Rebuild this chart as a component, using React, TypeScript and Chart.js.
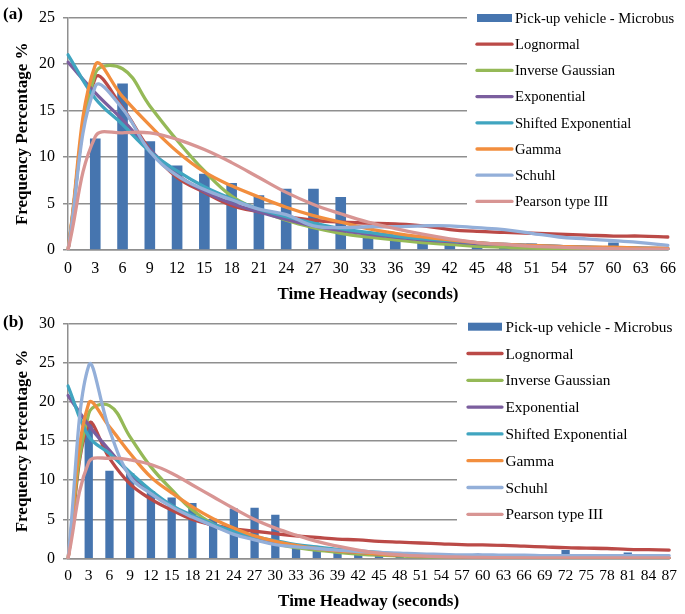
import React, { useEffect, useRef } from 'react';
import { Chart, registerables } from 'chart.js';

Chart.register(...registerables);

const FONT = "'Liberation Serif', 'Times New Roman', serif";

const SERIES_NAMES = [
  'Pick-up vehicle - Microbus',
  'Lognormal',
  'Inverse Gaussian',
  'Exponential',
  'Shifted Exponential',
  'Gamma',
  'Schuhl',
  'Pearson type III',
];
const SERIES_COLORS = ['#4675AF', '#BB4A47', '#95B957', '#7B5E9E', '#40A5C0', '#F28E3E', '#93AFD9', '#D89593'];

// ---------- Panel (a) ----------
const catsA = ['0', '3', '6', '9', '12', '15', '18', '21', '24', '27', '30', '33', '36', '39', '42', '45', '48', '51', '54', '57', '60', '63', '66'];
const barsA = [0, 12.0, 17.9, 11.7, 9.1, 8.2, 7.2, 5.9, 6.6, 6.6, 5.7, 1.6, 1.3, 1.0, 0.8, 0.5, 0.4, 0.7, 0, 0, 0.8, 0, 0];
const lognA = [0, 18.5, 15.3, 10.8, 7.8, 6.2, 4.8, 4.1, 3.6, 3.2, 3.0, 2.9, 2.8, 2.6, 2.2, 2.0, 1.9, 1.8, 1.7, 1.6, 1.5, 1.5, 1.4];
const invGA = [0, 19.0, 19.5, 15.5, 11.8, 8.5, 5.8, 4.3, 3.2, 2.4, 1.8, 1.4, 1.1, 0.8, 0.6, 0.4, 0.3, 0.2, 0.15, 0.1, 0.1, 0.05, 0.05];
const expA = [20.2, 16.9, 14.0, 10.8, 8.1, 6.3, 5.0, 4.1, 3.3, 2.6, 2.1, 1.7, 1.4, 1.1, 0.9, 0.7, 0.6, 0.5, 0.4, 0.3, 0.25, 0.2, 0.15];
const shiftA = [21.0, 16.3, 13.5, 10.6, 8.5, 6.8, 5.5, 4.4, 3.6, 2.9, 2.3, 1.9, 1.5, 1.2, 1.0, 0.8, 0.6, 0.5, 0.4, 0.3, 0.25, 0.2, 0.15];
const gammaA = [0, 19.9, 16.5, 13.4, 10.6, 8.4, 6.9, 5.7, 4.6, 3.7, 3.0, 2.3, 1.8, 1.4, 1.1, 0.8, 0.6, 0.5, 0.4, 0.3, 0.3, 0.2, 0.2];
const schuhlA = [0, 17.6, 15.2, 10.6, 8.0, 6.5, 5.4, 4.4, 3.8, 2.6, 2.4, 2.5, 2.5, 2.6, 2.6, 2.4, 2.2, 1.8, 1.4, 1.2, 1.0, 0.8, 0.5];
const pearsonA = [0, 12.2, 12.6, 12.6, 11.9, 10.8, 9.4, 7.8, 6.2, 4.9, 3.9, 3.0, 2.3, 1.7, 1.2, 0.8, 0.6, 0.4, 0.3, 0.2, 0.15, 0.1, 0.1];

// ---------- Panel (b) ----------
const catsB = ['0', '3', '6', '9', '12', '15', '18', '21', '24', '27', '30', '33', '36', '39', '42', '45', '48', '51', '54', '57', '60', '63', '66', '69', '72', '75', '78', '81', '84', '87'];
const barsB = [0, 17.5, 11.2, 10.9, 8.6, 7.8, 7.1, 5.1, 6.4, 6.5, 5.6, 1.5, 1.1, 0.9, 0.7, 0.5, 0.3, 0.2, 0.2, 0.1, 0.1, 0.1, 0.1, 0.5, 1.1, 0, 0, 0.8, 0, 0];
const lognB = [0, 17.2, 12.8, 9.5, 7.6, 6.2, 5.0, 4.3, 3.8, 3.5, 3.2, 2.9, 2.7, 2.5, 2.4, 2.2, 2.1, 2.0, 1.9, 1.8, 1.75, 1.7, 1.6, 1.5, 1.4, 1.35, 1.3, 1.2, 1.15, 1.1];
const invGB = [0, 18.5, 19.5, 15.5, 11.7, 8.8, 6.2, 4.4, 3.3, 2.5, 1.9, 1.4, 1.1, 0.8, 0.6, 0.45, 0.35, 0.25, 0.2, 0.15, 0.1, 0.1, 0.05, 0.05, 0.05, 0, 0, 0, 0, 0];
const expB = [20.8, 17.0, 13.8, 10.8, 8.5, 6.7, 5.3, 4.2, 3.3, 2.6, 2.1, 1.6, 1.3, 1.0, 0.8, 0.6, 0.5, 0.4, 0.3, 0.25, 0.2, 0.15, 0.12, 0.1, 0.08, 0.06, 0.05, 0.04, 0.03, 0.03];
const shiftB = [22.0, 15.6, 13.4, 11.0, 8.7, 6.8, 5.5, 4.4, 3.5, 2.8, 2.3, 1.8, 1.5, 1.2, 1.0, 0.8, 0.6, 0.5, 0.4, 0.3, 0.25, 0.2, 0.15, 0.12, 0.1, 0.08, 0.06, 0.05, 0.04, 0.03];
const gammaB = [0, 19.8, 16.8, 13.4, 10.4, 8.4, 6.6, 5.1, 3.9, 2.9, 2.2, 1.7, 1.3, 1.0, 0.8, 0.6, 0.45, 0.35, 0.3, 0.25, 0.2, 0.15, 0.12, 0.1, 0.1, 0.08, 0.06, 0.05, 0.05, 0.05];
const schuhlB = [0, 24.6, 16.4, 10.4, 8.3, 6.6, 5.3, 4.2, 3.1, 2.4, 1.8, 1.5, 1.3, 1.1, 0.9, 0.8, 0.7, 0.6, 0.55, 0.5, 0.5, 0.45, 0.45, 0.4, 0.4, 0.4, 0.4, 0.4, 0.4, 0.4];
const pearsonB = [0, 12.3, 12.8, 12.6, 12.0, 10.9, 9.4, 7.9, 6.4, 5.0, 3.9, 3.0, 2.2, 1.6, 1.1, 0.7, 0.5, 0.35, 0.25, 0.2, 0.15, 0.12, 0.1, 0.1, 0.1, 0.1, 0.1, 0.1, 0.1, 0.1];

const X_TITLE = 'Time Headway (seconds)';
const Y_TITLE = 'Frequency Percentage %';

type PanelCfg = {
  tag: string;
  top: number;
  height: number;
  labels: string[];
  bars: number[];
  curves: number[][];
  yMax: number;
  padTop: number;
  xScaleHeight: number;
  xTickPad: number;
  xTitlePadBottom: number;
  xTickSize: number;
  barPct: number;
  legend: {
    boxX: number; boxY: number; boxW: number; boxH: number;
    mx0: number; mx1: number; tx: number; y0: number; dy: number; fontSize: number;
    tagX: number; tagY: number;
  };
};

const legendPlugin = {
  id: 'customLegend',
  beforeDatasetsDraw(chart: any, _args: any, o: any) {
    const ctx = chart.ctx;
    ctx.save();
    ctx.fillStyle = '#ffffff';
    ctx.fillRect(o.boxX, o.boxY, o.boxW, o.boxH);
    ctx.restore();
  },
  afterDatasetsDraw(chart: any, _args: any, o: any) {
    const ctx = chart.ctx;
    ctx.save();
    chart.data.datasets.forEach((ds: any, i: number) => {
      const y = o.y0 + i * o.dy;
      if (i === 0) {
        ctx.fillStyle = ds.backgroundColor;
        ctx.fillRect(o.mx0, y - 4, o.mx1 - o.mx0, 8);
      } else {
        ctx.strokeStyle = ds.borderColor;
        ctx.lineWidth = 3.3;
        ctx.lineCap = 'round';
        ctx.beginPath();
        ctx.moveTo(o.mx0, y);
        ctx.lineTo(o.mx1, y);
        ctx.stroke();
      }
      ctx.fillStyle = '#000';
      ctx.font = `${o.fontSize}px ${FONT}`;
      ctx.textBaseline = 'middle';
      ctx.textAlign = 'left';
      ctx.fillText(ds.label, o.tx, y + 1);
    });
    ctx.font = `bold 17px ${FONT}`;
    ctx.fillStyle = '#000';
    ctx.textBaseline = 'middle';
    ctx.textAlign = 'left';
    ctx.fillText(o.tag, o.tagX, o.tagY);
    ctx.restore();
  },
};

function buildConfig(p: PanelCfg): any {
  const datasets: any[] = [
    {
      type: 'bar',
      label: SERIES_NAMES[0],
      data: p.bars,
      backgroundColor: SERIES_COLORS[0],
      barPercentage: p.barPct,
      categoryPercentage: 1,
      order: 20,
    },
    ...p.curves.map((d, i) => ({
      type: 'line',
      label: SERIES_NAMES[i + 1],
      data: d,
      borderColor: SERIES_COLORS[i + 1],
      backgroundColor: SERIES_COLORS[i + 1],
      borderWidth: 3.3,
      pointRadius: 0,
      tension: 0.4,
      fill: false,
      borderCapStyle: 'round',
      borderJoinStyle: 'round',
      order: 10 - i,
    })),
  ];
  return {
    type: 'bar',
    data: { labels: p.labels, datasets },
    plugins: [legendPlugin],
    options: {
      responsive: false,
      animation: false,
      events: [],
      layout: { padding: { top: p.padTop, right: 15.5, left: 0, bottom: 0 } },
      plugins: {
        legend: { display: false },
        tooltip: { enabled: false },
        customLegend: { ...p.legend, tag: p.tag },
      },
      scales: {
        x: {
          type: 'category',
          offset: false,
          grid: { display: true, drawOnChartArea: false, drawTicks: false },
          border: { display: true, color: '#8f8f8f', width: 1.5 },
          ticks: {
            color: '#000',
            font: { family: FONT, size: p.xTickSize },
            padding: p.xTickPad,
            maxRotation: 0,
            autoSkip: false,
          },
          title: {
            display: true,
            text: X_TITLE,
            color: '#000',
            font: { family: FONT, size: 17, weight: 'bold' },
            padding: { top: 0, bottom: p.xTitlePadBottom },
          },
          afterFit: (s: any) => { s.height = p.xScaleHeight; },
        },
        y: {
          min: 0,
          max: p.yMax,
          ticks: {
            stepSize: 5,
            color: '#000',
            font: { family: FONT, size: 16 },
            padding: 8,
          },
          grid: { color: '#8f8f8f', lineWidth: 1.5, tickLength: 5, drawTicks: true },
          border: { display: true, color: '#8f8f8f', width: 1.5 },
          title: {
            display: true,
            text: Y_TITLE,
            color: '#000',
            font: { family: FONT, size: 17, weight: 'bold' },
            padding: { top: 12, bottom: 0 },
          },
          afterFit: (s: any) => { s.width = 68; },
        },
      },
    },
  };
}

const panelA: PanelCfg = {
  tag: '(a)',
  top: 0,
  height: 305,
  labels: catsA,
  bars: barsA,
  curves: [lognA, invGA, expA, shiftA, gammaA, schuhlA, pearsonA],
  yMax: 25,
  padTop: 15,
  xScaleHeight: 55,
  xTickPad: 9,
  xTitlePadBottom: 0,
  xTickSize: 16,
  barPct: 0.39,
  legend: {
    boxX: 467, boxY: 3, boxW: 218, boxH: 212,
    mx0: 477, mx1: 512, tx: 515, y0: 18, dy: 26.2, fontSize: 14.6,
    tagX: 3, tagY: 15,
  },
};

const panelB: PanelCfg = {
  tag: '(b)',
  top: 305,
  height: 309,
  labels: catsB,
  bars: barsB,
  curves: [lognB, invGB, expB, shiftB, gammaB, schuhlB, pearsonB],
  yMax: 30,
  padTop: 18.3,
  xScaleHeight: 55.3,
  xTickPad: 8,
  xTitlePadBottom: 2.4,
  xTickSize: 15.5,
  barPct: 0.4,
  legend: {
    boxX: 457, boxY: 5, boxW: 228, boxH: 222,
    mx0: 468, mx1: 502, tx: 505.5, y0: 21.7, dy: 26.8, fontSize: 15.3,
    tagX: 3, tagY: 18,
  },
};

function Panel({ cfg }: { cfg: PanelCfg }) {
  const ref = useRef<HTMLCanvasElement>(null);
  useEffect(() => {
    const chart = new Chart(ref.current as HTMLCanvasElement, buildConfig(cfg));
    return () => chart.destroy();
  }, [cfg]);
  return (
    <canvas
      ref={ref}
      width={685}
      height={cfg.height}
      style={{ position: 'absolute', left: 0, top: cfg.top, width: 685, height: cfg.height, display: 'block' }}
    />
  );
}

export default function App() {
  return (
    <div style={{ position: 'absolute', left: 0, top: 0, width: 685, height: 614, background: '#fff' }}>
      <Panel cfg={panelA} />
      <Panel cfg={panelB} />
    </div>
  );
}
